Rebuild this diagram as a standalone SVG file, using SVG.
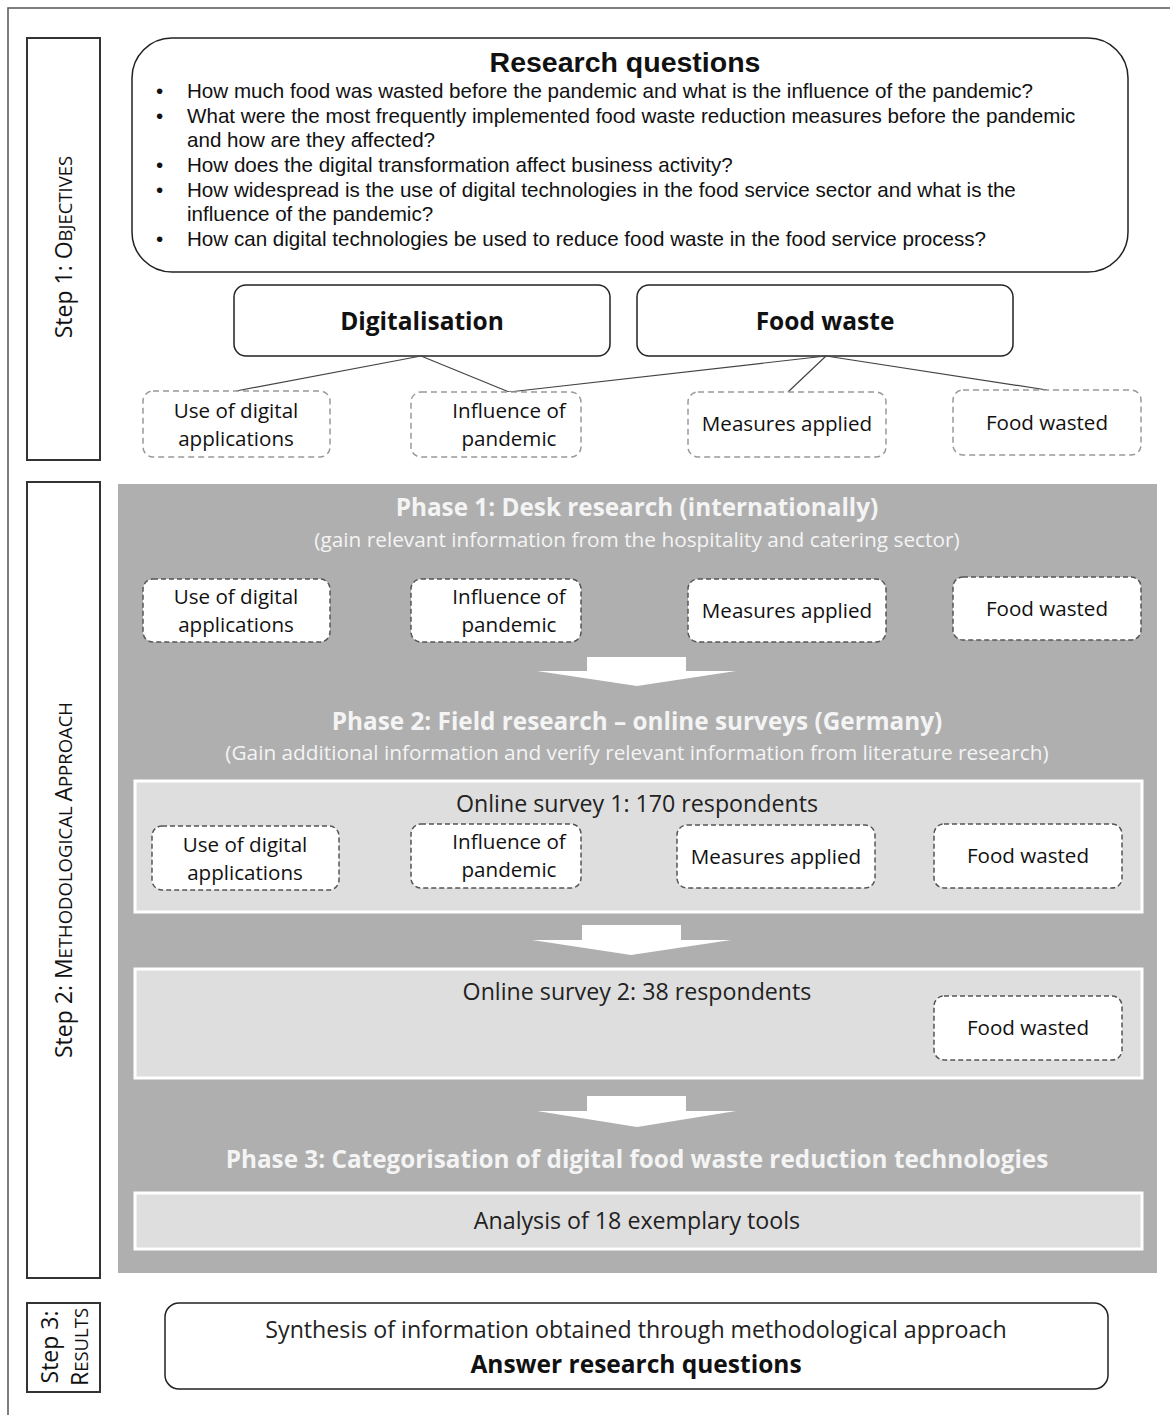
<svg xmlns="http://www.w3.org/2000/svg" width="1170" height="1415" viewBox="0 0 1170 1415">
<style>
.frame{fill:none;stroke:#555;stroke-width:1.5}
.step{fill:#fff;stroke:#333;stroke-width:2}
.steptxt{font-family:"Open Sans",Lato,sans-serif;font-size:23px;fill:#111}
.rq{font-family:"Liberation Sans",Arial,sans-serif;font-size:20.6px;fill:#111}
.box{fill:#fff;stroke:#222;stroke-width:1.5}
.dash1{fill:#fff;stroke:#999;stroke-width:1.5;stroke-dasharray:6 4}
.dash2{fill:#fff;stroke:#555;stroke-width:1.5;stroke-dasharray:5 3}
.lbl{font-family:"Open Sans",Lato,sans-serif;font-size:20.6px;fill:#111;text-anchor:middle}
.big{font-family:"Open Sans",Lato,sans-serif;font-size:24.5px;font-weight:bold;fill:#111;text-anchor:middle}
.ph{font-family:"Open Sans",Lato,sans-serif;font-size:24.3px;font-weight:bold;fill:#f4f4f4;text-anchor:middle}
.phs{font-family:"Open Sans",Lato,sans-serif;font-size:20.8px;fill:#f4f4f4;text-anchor:middle}
.inner{fill:#dedede;stroke:#fff;stroke-width:3}
.itxt{font-family:"Open Sans",Lato,sans-serif;font-size:23.2px;fill:#222;text-anchor:middle}
.conn{stroke:#444;stroke-width:1.2;fill:none}
.arrow{fill:#fff}
</style>
<rect x="0" y="0" width="1170" height="1415" fill="#fff"/>
<rect class="frame" x="8" y="8" width="1170" height="1420"/>

<g id="step1">
<rect class="step" x="27" y="38" width="73" height="422"/>
<text class="steptxt" transform="translate(72,247) rotate(-90)" text-anchor="middle">Step 1: O<tspan font-size="18.5">BJECTIVES</tspan></text>
</g>
<g id="step2">
<rect class="step" x="27" y="482" width="73" height="796"/>
<text class="steptxt" transform="translate(72,880) rotate(-90)" text-anchor="middle">Step 2: M<tspan font-size="18.5">ETHODOLOGICAL </tspan>A<tspan font-size="18.5">PPROACH</tspan></text>
</g>
<g id="step3">
<rect class="step" x="27" y="1303" width="73" height="89"/>
<text class="steptxt" transform="translate(58,1347) rotate(-90)" text-anchor="middle">Step 3:</text>
<text class="steptxt" transform="translate(88,1347) rotate(-90)" text-anchor="middle">R<tspan font-size="18.5">ESULTS</tspan></text>
</g>

<g id="research-questions">
<rect class="box" x="132" y="38" width="996" height="234" rx="40"/>
<text x="625" y="72" font-family="Liberation Sans,Arial,sans-serif" font-size="28.5" font-weight="bold" text-anchor="middle" fill="#111">Research questions</text>
<g class="rq">
<text x="156" y="98">•</text><text x="187" y="98">How much food was wasted before the pandemic and what is the influence of the pandemic?</text>
<text x="156" y="123">•</text><text x="187" y="123">What were the most frequently implemented food waste reduction measures before the pandemic</text>
<text x="187" y="147">and how are they affected?</text>
<text x="156" y="172">•</text><text x="187" y="172">How does the digital transformation affect business activity?</text>
<text x="156" y="197">•</text><text x="187" y="197">How widespread is the use of digital technologies in the food service sector and what is the</text>
<text x="187" y="221">influence of the pandemic?</text>
<text x="156" y="246">•</text><text x="187" y="246">How can digital technologies be used to reduce food waste in the food service process?</text>
</g>
</g>

<g id="digitalisation">
<rect class="box" x="234" y="285" width="376" height="71" rx="12"/>
<text class="big" x="422" y="330">Digitalisation</text>
</g>
<g id="food-waste">
<rect class="box" x="637" y="285" width="376" height="71" rx="12"/>
<text class="big" x="825" y="330">Food waste</text>
</g>

<g id="connectors">
<line class="conn" x1="421" y1="356" x2="236" y2="391"/>
<line class="conn" x1="421" y1="356" x2="509" y2="392"/>
<line class="conn" x1="826" y1="356" x2="509" y2="392"/>
<line class="conn" x1="826" y1="356" x2="788" y2="392"/>
<line class="conn" x1="826" y1="356" x2="1047" y2="390"/>
</g>

<g id="obj-use">
<rect class="dash1" x="143" y="391" width="187" height="66" rx="10"/>
<text class="lbl" x="236" y="418">Use of digital</text>
<text class="lbl" x="236" y="446">applications</text>
</g>
<g id="obj-influence">
<rect class="dash1" x="411" y="392" width="170" height="65" rx="10"/>
<text class="lbl" x="509" y="418">Influence of</text>
<text class="lbl" x="509" y="446">pandemic</text>
</g>
<g id="obj-measures">
<rect class="dash1" x="688" y="392" width="198" height="65" rx="10"/>
<text class="lbl" x="787" y="431">Measures applied</text>
</g>
<g id="obj-foodwasted">
<rect class="dash1" x="953" y="390" width="188" height="65" rx="10"/>
<text class="lbl" x="1047" y="430">Food wasted</text>
</g>

<g id="panel">
<rect x="118" y="484" width="1039" height="789" fill="#afafaf"/>
<text class="ph" x="637" y="516">Phase 1: Desk research (internationally)</text>
<text class="phs" x="637" y="547">(gain relevant information from the hospitality and catering sector)</text>
</g>

<g id="p1-use">
<rect class="dash2" x="143" y="579" width="187" height="63" rx="10"/>
<text class="lbl" x="236" y="604">Use of digital</text>
<text class="lbl" x="236" y="632">applications</text>
</g>
<g id="p1-influence">
<rect class="dash2" x="411" y="579" width="170" height="63" rx="10"/>
<text class="lbl" x="509" y="604">Influence of</text>
<text class="lbl" x="509" y="632">pandemic</text>
</g>
<g id="p1-measures">
<rect class="dash2" x="688" y="579" width="198" height="63" rx="10"/>
<text class="lbl" x="787" y="618">Measures applied</text>
</g>
<g id="p1-foodwasted">
<rect class="dash2" x="953" y="577" width="188" height="63" rx="10"/>
<text class="lbl" x="1047" y="616">Food wasted</text>
</g>

<g id="arrow1"><polygon class="arrow" points="587,657 686,657 686,671 736,671 637,686 537,671 587,671"/></g>

<g id="phase2">
<text class="ph" x="637" y="730">Phase 2: Field research – online surveys (Germany)</text>
<text class="phs" x="637" y="760">(Gain additional information and verify relevant information from literature research)</text>
</g>

<g id="survey1">
<rect class="inner" x="135" y="781" width="1007" height="131"/>
<text class="itxt" x="637" y="812">Online survey 1: 170 respondents</text>
</g>
<g id="s1-use">
<rect class="dash2" x="152" y="826" width="187" height="64" rx="10"/>
<text class="lbl" x="245" y="852">Use of digital</text>
<text class="lbl" x="245" y="880">applications</text>
</g>
<g id="s1-influence">
<rect class="dash2" x="411" y="824" width="170" height="64" rx="10"/>
<text class="lbl" x="509" y="849">Influence of</text>
<text class="lbl" x="509" y="877">pandemic</text>
</g>
<g id="s1-measures">
<rect class="dash2" x="677" y="825" width="198" height="63" rx="10"/>
<text class="lbl" x="776" y="864">Measures applied</text>
</g>
<g id="s1-foodwasted">
<rect class="dash2" x="934" y="824" width="188" height="64" rx="10"/>
<text class="lbl" x="1028" y="863">Food wasted</text>
</g>

<g id="arrow2"><polygon class="arrow" points="582,925 681,925 681,940 731,940 631,955 532,940 582,940"/></g>

<g id="survey2">
<rect class="inner" x="135" y="969" width="1007" height="109"/>
<text class="itxt" x="637" y="1000">Online survey 2: 38 respondents</text>
</g>
<g id="s2-foodwasted">
<rect class="dash2" x="934" y="996" width="188" height="64" rx="10"/>
<text class="lbl" x="1028" y="1035">Food wasted</text>
</g>

<g id="arrow3"><polygon class="arrow" points="587,1096 686,1096 686,1111 736,1111 637,1127 537,1111 587,1111"/></g>

<g id="phase3">
<text class="ph" x="637" y="1168">Phase 3: Categorisation of digital food waste reduction technologies</text>
</g>
<g id="analysis">
<rect class="inner" x="135" y="1193" width="1007" height="56"/>
<text class="itxt" x="637" y="1229">Analysis of 18 exemplary tools</text>
</g>

<g id="synthesis">
<rect class="box" x="165" y="1303" width="943" height="86" rx="14"/>
<text class="itxt" x="636" y="1338" fill="#111">Synthesis of information obtained through methodological approach</text>
<text class="big" x="636" y="1373" font-size="24">Answer research questions</text>
</g>
</svg>
